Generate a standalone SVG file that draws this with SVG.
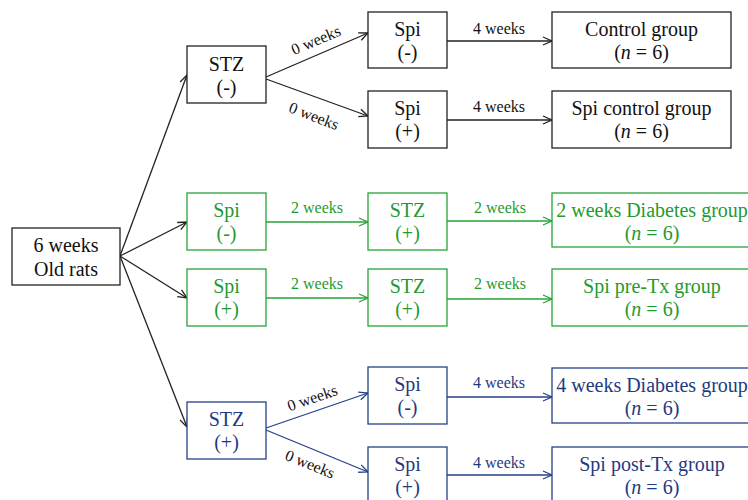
<svg xmlns="http://www.w3.org/2000/svg" width="748" height="500" viewBox="0 0 748 500">
<style>
text{font-family:"Liberation Serif","Times New Roman",serif;text-anchor:middle}
.n{font-size:20px}
.l{font-size:16px}
rect{fill:#fff;stroke-width:1.3}
.k rect{stroke:#222}
.k text{fill:#111}
.g rect{stroke:#27a337}
.g text{fill:#1f9a2f}
.b rect{stroke:#24418a}
.b text{fill:#1f3a80}
line{stroke-width:1.3}
.ck{stroke:#222}
.cg{stroke:#27a337}
.cb{stroke:#24418a}
</style>
<defs>
<marker id="ak" markerUnits="userSpaceOnUse" markerWidth="12" markerHeight="12" refX="10" refY="5" orient="auto" viewBox="0 0 12 10"><path d="M1,1 L10,5 L1,9" fill="none" stroke="#222" stroke-width="1.3"/></marker>
<marker id="ag" markerUnits="userSpaceOnUse" markerWidth="12" markerHeight="12" refX="10" refY="5" orient="auto" viewBox="0 0 12 10"><path d="M1,1 L10,5 L1,9" fill="none" stroke="#27a337" stroke-width="1.3"/></marker>
<marker id="ab" markerUnits="userSpaceOnUse" markerWidth="12" markerHeight="12" refX="10" refY="5" orient="auto" viewBox="0 0 12 10"><path d="M1,1 L10,5 L1,9" fill="none" stroke="#24418a" stroke-width="1.3"/></marker>
</defs>

<g id="connectors">
<line class="ck" x1="120" y1="256" x2="187" y2="75" marker-end="url(#ak)"/>
<line class="ck" x1="120" y1="256" x2="187" y2="222" marker-end="url(#ak)"/>
<line class="ck" x1="120" y1="256" x2="187" y2="298" marker-end="url(#ak)"/>
<line class="ck" x1="120" y1="256" x2="187" y2="427" marker-end="url(#ak)"/>
<line class="ck" x1="266" y1="77" x2="368" y2="33" marker-end="url(#ak)"/>
<line class="ck" x1="266" y1="79" x2="368" y2="116" marker-end="url(#ak)"/>
<line class="ck" x1="447" y1="41" x2="552" y2="41" marker-end="url(#ak)"/>
<line class="ck" x1="447" y1="120" x2="552" y2="120" marker-end="url(#ak)"/>
<line class="cg" x1="266" y1="222" x2="368" y2="222" marker-end="url(#ag)"/>
<line class="cg" x1="447" y1="221" x2="552" y2="221" marker-end="url(#ag)"/>
<line class="cg" x1="266" y1="298" x2="368" y2="298" marker-end="url(#ag)"/>
<line class="cg" x1="447" y1="299" x2="552" y2="299" marker-end="url(#ag)"/>
<line class="cb" x1="266" y1="428" x2="368" y2="393" marker-end="url(#ab)"/>
<line class="cb" x1="266" y1="430" x2="368" y2="472" marker-end="url(#ab)"/>
<line class="cb" x1="447" y1="397" x2="552" y2="397" marker-end="url(#ab)"/>
<line class="cb" x1="447" y1="475" x2="552" y2="475" marker-end="url(#ab)"/>
<text class="l" fill="#111" transform="translate(318,45) rotate(-23)">0 weeks</text>
<text class="l" fill="#111" transform="translate(312,121) rotate(21)">0 weeks</text>
<text class="l" fill="#111" x="499" y="34">4 weeks</text>
<text class="l" fill="#111" x="499" y="112">4 weeks</text>
<text class="l" fill="#1f9a2f" x="317" y="213">2 weeks</text>
<text class="l" fill="#1f9a2f" x="500" y="213">2 weeks</text>
<text class="l" fill="#1f9a2f" x="317" y="289">2 weeks</text>
<text class="l" fill="#1f9a2f" x="500" y="289">2 weeks</text>
<text class="l" fill="#111" transform="translate(314,403) rotate(-19)">0 weeks</text>
<text class="l" fill="#111" transform="translate(308,469) rotate(22)">0 weeks</text>
<text class="l" fill="#1f3a80" x="499" y="388">4 weeks</text>
<text class="l" fill="#1f3a80" x="499" y="468">4 weeks</text>
</g>

<g id="start" class="k"><rect x="12" y="228" width="108" height="57"/><text class="n" x="66" y="252">6 weeks</text><text class="n" x="66" y="276">Old rats</text></g>

<g id="stz-neg" class="k"><rect x="187" y="46" width="79" height="57"/><text class="n" x="226.5" y="71">STZ</text><text class="n" x="226.5" y="94">(-)</text></g>
<g id="spi-neg-top" class="k"><rect x="368" y="12" width="79" height="56"/><text class="n" x="407.5" y="36">Spi</text><text class="n" x="407.5" y="59">(-)</text></g>
<g id="spi-pos-top" class="k"><rect x="368" y="91" width="79" height="57"/><text class="n" x="407.5" y="115">Spi</text><text class="n" x="407.5" y="138">(+)</text></g>
<g id="control" class="k"><rect x="552" y="12" width="179" height="56"/><text class="n" x="641.5" y="36">Control group</text><text class="n" x="641.5" y="59">(<tspan font-style="italic">n</tspan> = 6)</text></g>
<g id="spi-control" class="k"><rect x="552" y="91" width="179" height="57"/><text class="n" x="641.5" y="115">Spi control group</text><text class="n" x="641.5" y="138">(<tspan font-style="italic">n</tspan> = 6)</text></g>

<g id="spi-neg-green" class="g"><rect x="187" y="193" width="79" height="57"/><text class="n" x="226.5" y="217">Spi</text><text class="n" x="226.5" y="240">(-)</text></g>
<g id="stz-pos-green1" class="g"><rect x="368" y="193" width="79" height="57"/><text class="n" x="407.5" y="217">STZ</text><text class="n" x="407.5" y="240">(+)</text></g>
<g id="diab2" class="g"><rect x="552" y="193" width="200" height="54"/><text class="n" x="652" y="217">2 weeks Diabetes group</text><text class="n" x="652" y="240">(<tspan font-style="italic">n</tspan> = 6)</text></g>
<g id="spi-pos-green" class="g"><rect x="187" y="269" width="79" height="57"/><text class="n" x="226.5" y="293">Spi</text><text class="n" x="226.5" y="316">(+)</text></g>
<g id="stz-pos-green2" class="g"><rect x="368" y="269" width="79" height="57"/><text class="n" x="407.5" y="293">STZ</text><text class="n" x="407.5" y="316">(+)</text></g>
<g id="pretx" class="g"><rect x="552" y="269" width="200" height="57"/><text class="n" x="652" y="293">Spi pre-Tx group</text><text class="n" x="652" y="316">(<tspan font-style="italic">n</tspan> = 6)</text></g>

<g id="stz-pos-blue" class="b"><rect x="187" y="402" width="79" height="57"/><text class="n" x="226.5" y="426">STZ</text><text class="n" x="226.5" y="449">(+)</text></g>
<g id="spi-neg-blue" class="b"><rect x="368" y="367" width="79" height="57"/><text class="n" x="407.5" y="391">Spi</text><text class="n" x="407.5" y="414">(-)</text></g>
<g id="diab4" class="b"><rect x="552" y="368" width="200" height="55"/><text class="n" x="652" y="392">4 weeks Diabetes group</text><text class="n" x="652" y="415">(<tspan font-style="italic">n</tspan> = 6)</text></g>
<g id="spi-pos-blue" class="b"><rect x="368" y="447" width="79" height="60"/><text class="n" x="407.5" y="471">Spi</text><text class="n" x="407.5" y="494">(+)</text></g>
<g id="posttx" class="b"><rect x="552" y="447" width="200" height="60"/><text class="n" x="652" y="471">Spi post-Tx group</text><text class="n" x="652" y="494">(<tspan font-style="italic">n</tspan> = 6)</text></g>
</svg>
